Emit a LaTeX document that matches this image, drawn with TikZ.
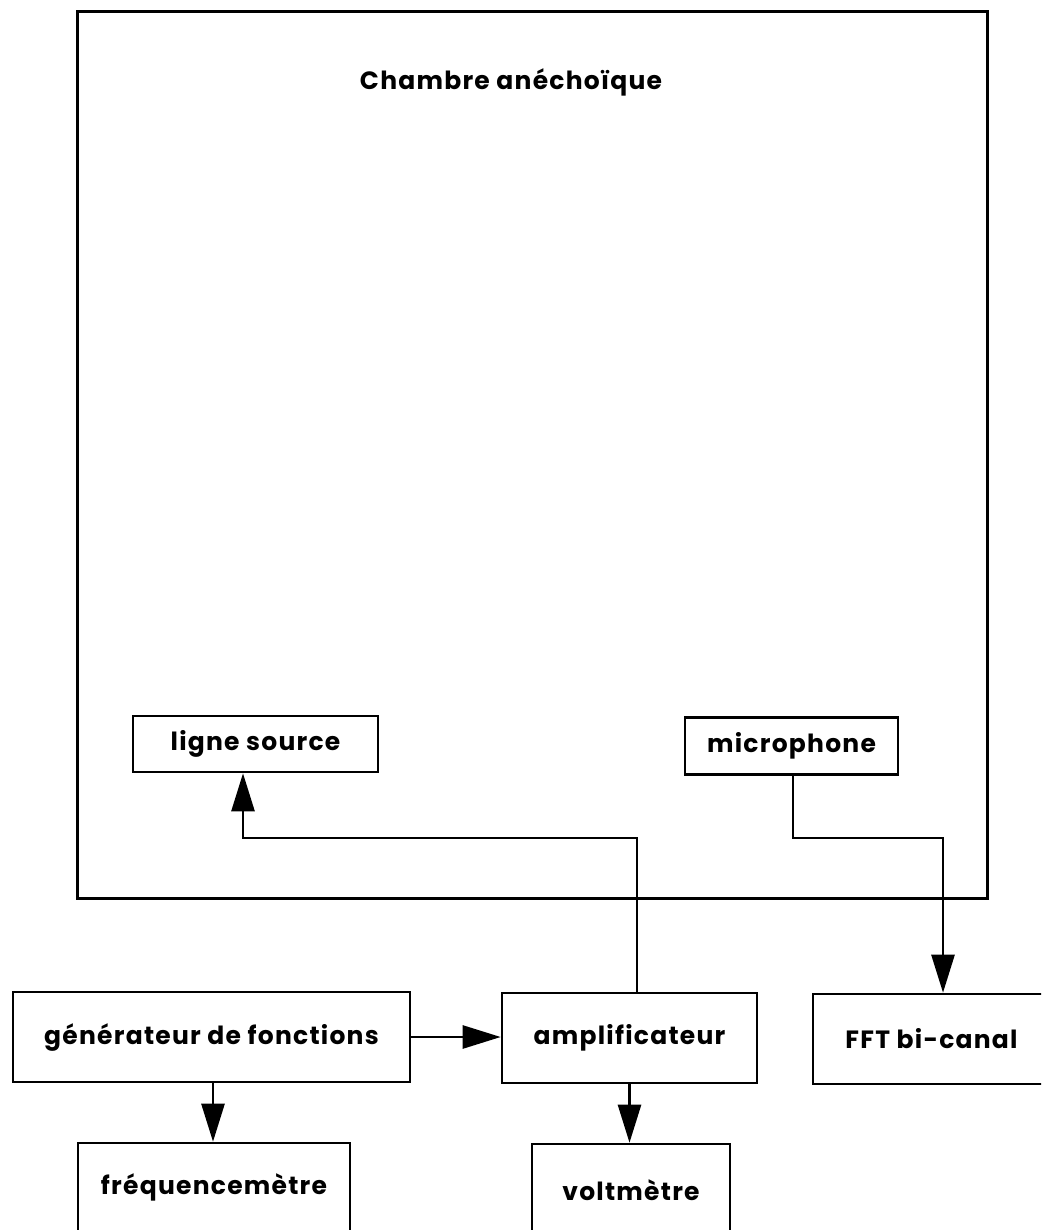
\documentclass[tikz,border=0pt]{standalone}
\usepackage{fontspec}
\setsansfont{Poppins}[LetterSpace=5]
\usetikzlibrary{arrows.meta,positioning,calc}

\begin{document}
\begin{tikzpicture}[x=0.5pt, y=-0.5pt, font=\sffamily\bfseries\fontsize{12.5}{14}\selectfont,
  bx/.style={draw, line width=1.3pt, inner sep=0pt},
  e/.style={-{Triangle[length=19pt, width=11.5pt]}, line width=1.3pt},
  w/.style={line width=1.3pt}]
\useasboundingbox (0,0) rectangle (1041,1230);
\clip (0,0) rectangle (1041,1230);
% chambre
\node[bx, minimum width=455pt, minimum height=443pt, line width=1.5pt](ch) at (532,455){};
\node(titre) at (511,82){Chambre anéchoïque};
\node[bx, minimum width=122.5pt, minimum height=28pt](src) at (255.5,744){ligne source};
\node[bx, minimum width=106.5pt, minimum height=28.5pt](mic) at (791.5,746){microphone};
% appareils
\node[bx, minimum width=198.5pt, minimum height=45pt](gen) at (211.5,1037){générateur de fonctions};
\node[bx, minimum width=127.5pt, minimum height=45pt](amp) at (629.5,1038){amplificateur};
\node[bx, minimum width=118.5pt, minimum height=45pt](fft) at (931.5,1039){FFT bi-canal};
\node[bx, minimum width=136pt, minimum height=44pt](freq) at (214,1187){fréquencemètre};
\node[bx, minimum width=99pt, minimum height=46pt](volt) at (631,1190){voltmètre};
% liaisons
\coordinate(a1) at (637,838); \coordinate(a0) at (243,838);
\coordinate(m0) at (793,838); \coordinate(m1) at (943,838);
\draw[e](amp.north -| a1)--(a1)--(a0)--(a0 |- src.south);
\draw[e](mic.south -| m0)--(m0)--(m1)--(m1 |- fft.north);
\draw[e](gen.east)--(gen.east -| amp.west);
\draw[e](gen.south -| 213,0)--(freq.north -| 213,0);
\draw[e](amp.south)--(amp.south |- volt.north);
\end{tikzpicture}
\end{document}
